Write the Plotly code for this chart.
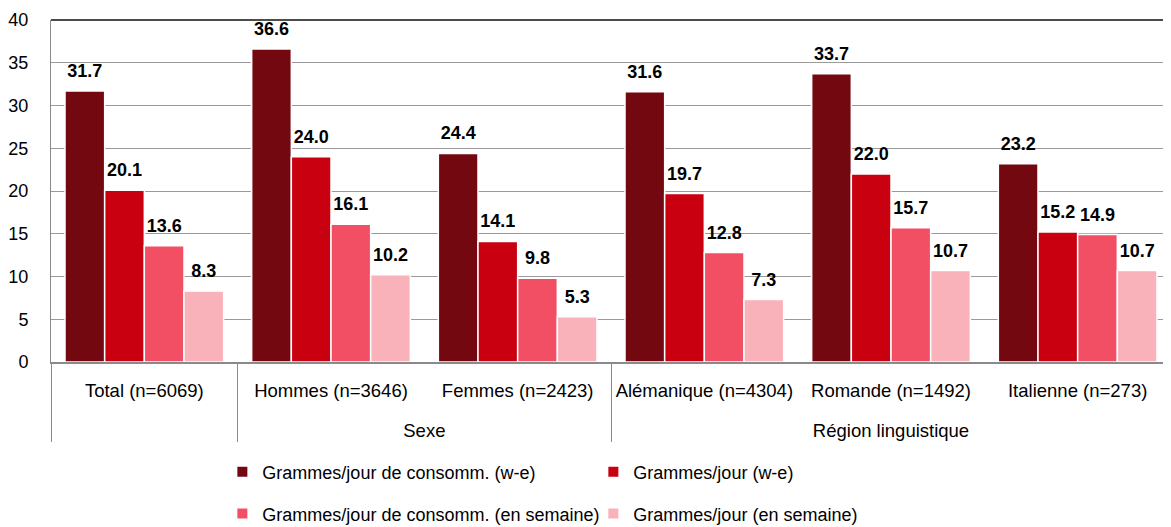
import plotly.graph_objects as go

# categories (two-level x axis)
groups = ["", "Sexe", "Sexe", "Région linguistique", "Région linguistique", "Région linguistique"]
categories = ["Total (n=6069)", "Hommes (n=3646)", "Femmes (n=2423)",
              "Alémanique (n=4304)", "Romande (n=1492)", "Italienne (n=273)"]

# series values
conso_we = [31.7, 36.6, 24.4, 31.6, 33.7, 23.2]
jour_we = [20.1, 24.0, 14.1, 19.7, 22.0, 15.2]
conso_semaine = [13.6, 16.1, 9.8, 12.8, 15.7, 14.9]
jour_semaine = [8.3, 10.2, 5.3, 7.3, 10.7, 10.7]

series = [
    ("Grammes/jour de consomm. (w-e)", conso_we, "#730810", "legend"),
    ("Grammes/jour (w-e)", jour_we, "#c8000f", "legend"),
    ("Grammes/jour de consomm. (en semaine)", conso_semaine, "#f24f64", "legend2"),
    ("Grammes/jour (en semaine)", jour_semaine, "#f9b1ba", "legend2"),
]

FONT = "Liberation Sans, Arial, sans-serif"

# extra blank line under each category label to push the group level down
cat_labels = [c + "<br><span style='font-size:40px'>\u00a0</span>" for c in categories]

# a big invisible space on each side lifts the value label a bit above the bar
PAD = "<span style='font-size:50px'>\u00a0</span>"

fig = go.Figure()
for name, vals, color, leg in series:
    fig.add_trace(go.Bar(
        x=[groups, cat_labels],
        y=vals,
        name=name,
        marker=dict(color=color, line=dict(color="white", width=1.5)),
        text=[f"{PAD}{v:.1f}{PAD}" for v in vals],
        textposition="outside",
        constraintext="none",
        textfont=dict(family=FONT, size=18, color="black", weight="bold"),
        cliponaxis=False,
        legend=leg,
    ))

# the page body adds an 8px offset, so the figure is 8px smaller than the window
fig.update_layout(
    width=1163, height=519,
    barmode="group",
    bargap=0.15,
    bargroupgap=0,
    plot_bgcolor="white",
    paper_bgcolor="white",
    font=dict(family=FONT, size=18, color="black"),
    margin=dict(l=43, r=0, t=12, b=165, autoexpand=False),
    legend=dict(orientation="h", x=0.153, y=-0.322, xanchor="left", yanchor="middle",
                entrywidth=326, font=dict(size=18), itemsizing="constant"),
    legend2=dict(orientation="h", x=0.153, y=-0.444, xanchor="left", yanchor="middle",
                 entrywidth=326, font=dict(size=18), itemsizing="constant"),
)

fig.update_yaxes(
    range=[0, 40], dtick=5,
    showgrid=True, gridcolor="#9a9a9a", gridwidth=1,
    showline=True, linecolor="#8a8a8a", linewidth=1,
    zeroline=False, automargin=False,
    ticks="", ticklabelstandoff=18,
    tickfont=dict(size=18),
)

fig.update_xaxes(
    showline=True, linecolor="#8a8a8a", linewidth=2,
    showdividers=True, dividercolor="#8a8a8a", dividerwidth=1,
    automargin=False, tickangle=0,
    ticks="", ticklabelstandoff=11, tickfont=dict(size=18.5),
)

# dark top border at the top of the value axis
fig.add_shape(type="line", xref="paper", yref="paper", x0=0, x1=1, y0=1, y1=1,
              line=dict(color="#111111", width=1.5))

fig.write_html("out.html")
